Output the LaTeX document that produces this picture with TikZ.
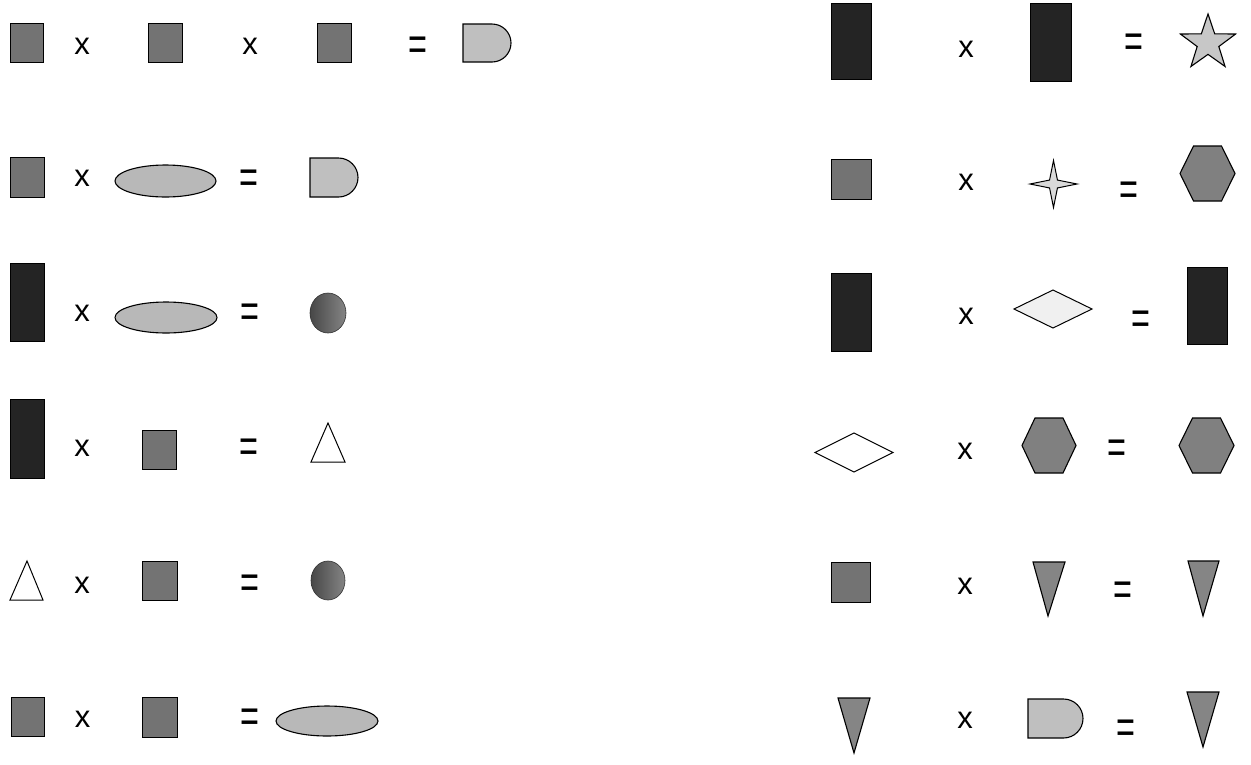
\documentclass[tikz,border=0pt]{standalone}
\usepackage{fontspec}
\newfontfamily\opfont{Liberation Sans}
\usetikzlibrary{shapes.geometric}
\definecolor{sqfill}{gray}{0.45}
\definecolor{tallfill}{gray}{0.14}
\definecolor{ellfill}{gray}{0.72}
\definecolor{dfill}{gray}{0.75}
\definecolor{starfill}{gray}{0.78}
\definecolor{fourfill}{gray}{0.85}
\definecolor{hexfill}{gray}{0.50}
\definecolor{trifill}{gray}{0.52}
\tikzset{
  sqbox/.style={draw=black, line width=0.8pt, fill=sqfill, inner sep=0pt, minimum width=34pt, minimum height=39pt},
  bigsq/.style={sqbox, minimum width=40pt, minimum height=40pt},
  tallbox/.style={draw=black, line width=0.8pt, fill=tallfill, inner sep=0pt, minimum width=40pt, minimum height=78pt},
  ellbox/.style={ellipse, draw=black, line width=1.1pt, fill=ellfill, inner sep=0pt, minimum width=101pt, minimum height=31pt},
  ballbox/.style={ellipse, draw=black!80, line width=0.6pt, left color=black!72, right color=black!48, inner sep=0pt},
  dshape/.style={draw=black, line width=1.1pt, fill=dfill},
  hexshape/.style={draw=black, line width=1.1pt, fill=hexfill},
  itri/.style={draw=black, line width=1.1pt, fill=trifill},
  wtri/.style={draw=black, line width=1pt, fill=white},
  diam/.style={draw=black, line width=1pt},
  times/.style={font=\opfont\fontsize{31pt}{31pt}\selectfont, inner sep=0pt},
  eqs/.style={font=\opfont\fontsize{24pt}{24pt}\selectfont, inner sep=0pt, yshift=-4.5pt},
}
\newcommand{\eqsign}{\scalebox{1.35}[2]{=}}
\begin{document}
\begin{tikzpicture}[x=1pt,y=-1pt]
\useasboundingbox (0,0) rectangle (1251,764);
% ---------------- left column ----------------
% row 1
\node[sqbox, minimum width=33pt] (l1a) at (26.5,42.5) {};
\node[times] (l1x1) at (82,46) {x};
\node[sqbox] (l1b) at (165.5,42.5) {};
\node[times] (l1x2) at (250,46) {x};
\node[sqbox] (l1c) at (334.5,42.5) {};
\node[eqs] (l1e) at (418,44.5) {\eqsign};
\draw[dshape] (463,24) -- (492,24) arc[start angle=-90,end angle=90,radius=19] -- (463,62) -- cycle;
% row 2
\node[sqbox, minimum height=40pt] (l2a) at (27,177) {};
\node[times] (l2x) at (82,178.5) {x};
\node[ellbox, minimum height=32pt] (l2b) at (165.5,181) {};
\node[eqs] (l2e) at (249,177) {\eqsign};
\draw[dshape] (310,158) -- (338.5,158) arc[start angle=-90,end angle=90,radius=19.5] -- (310,197) -- cycle;
% row 3
\node[tallbox, minimum width=34pt] (l3a) at (27,302) {};
\node[times] (l3x) at (82,313.5) {x};
\node[ellbox, minimum width=102pt] (l3b) at (166,317.5) {};
\node[eqs] (l3e) at (250,311) {\eqsign};
\node[ballbox, minimum width=36pt, minimum height=40pt] (l3c) at (328,313) {};
% row 4
\node[tallbox, minimum width=34pt, minimum height=79pt] (l4a) at (27,438.5) {};
\node[times] (l4x) at (82,448) {x};
\node[sqbox] (l4b) at (159,449.5) {};
\node[eqs] (l4e) at (249,446.5) {\eqsign};
\draw[wtri] (328,423) -- (345,462) -- (311,462) -- cycle;
% row 5
\draw[wtri] (27,561) -- (43,600) -- (10,600) -- cycle;
\node[times] (l5x) at (82,585) {x};
\node[sqbox, minimum width=35pt] (l5b) at (159.5,580.5) {};
\node[eqs] (l5e) at (249.5,582) {\eqsign};
\node[ballbox, minimum width=34pt, minimum height=39pt] (l5c) at (328,580.5) {};
% row 6
\node[sqbox, minimum width=33pt] (l6a) at (27.5,716.5) {};
\node[times] (l6x) at (82.5,719.5) {x};
\node[sqbox, minimum width=35pt, minimum height=40pt] (l6b) at (159.5,717) {};
\node[eqs] (l6e) at (250,716.5) {\eqsign};
\node[ellbox, minimum width=102pt, minimum height=30pt] (l6c) at (327,721) {};
% ---------------- right column ----------------
% row 1
\node[tallbox, minimum height=76pt] (r1a) at (851,41) {};
\node[times] (r1x) at (966,49.5) {x};
\node[tallbox, minimum width=41pt] (r1b) at (1050.5,42) {};
\node[eqs] (r1e) at (1133.5,41.5) {\eqsign};
\node[star, star points=5, star point ratio=2.55, minimum size=58pt, inner sep=0pt, draw=black, line width=1.1pt, fill=starfill] (r1c) at (1208,43) {};
% row 2
\node[bigsq] (r2a) at (851,179) {};
\node[times] (r2x) at (966,182) {x};
\node[star, star points=4, star point ratio=4.2, minimum size=47pt, inner sep=0pt, draw=black, line width=1pt, fill=fourfill] (r2b) at (1053.5,184) {};
\node[eqs] (r2e) at (1129,189) {\eqsign};
\draw[hexshape] (1180,173.5) -- (1193.5,146) -- (1221.5,146) -- (1235,173.5) -- (1221.5,201) -- (1193.5,201) -- cycle;
% row 3
\node[tallbox] (r3a) at (851,312) {};
\node[times] (r3x) at (966,316) {x};
\draw[diam, fill=black!6] (1014,309) -- (1053,290) -- (1092,309) -- (1053,328) -- cycle;
\node[eqs] (r3e) at (1140.5,318.5) {\eqsign};
\node[tallbox, minimum height=77pt] (r3c) at (1207,305.5) {};
% row 4
\draw[diam, fill=white] (815,452.5) -- (854,433) -- (893,452.5) -- (854,472) -- cycle;
\node[times] (r4x) at (965,451) {x};
\draw[hexshape] (1022,445.5) -- (1035,418) -- (1063,418) -- (1076,445.5) -- (1063,473) -- (1035,473) -- cycle;
\node[eqs] (r4e) at (1117,447.5) {\eqsign};
\draw[hexshape] (1179,445.5) -- (1192.5,418) -- (1220.5,418) -- (1234,445.5) -- (1220.5,473) -- (1192.5,473) -- cycle;
% row 5
\node[bigsq, minimum width=39pt] (r5a) at (850.5,582) {};
\node[times] (r5x) at (965,586) {x};
\draw[itri] (1033,562) -- (1065,562) -- (1048,616) -- cycle;
\node[eqs] (r5e) at (1122.5,589) {\eqsign};
\draw[itri] (1188,561) -- (1219,561) -- (1203,616) -- cycle;
% row 6
\draw[itri] (838,698) -- (870,698) -- (854,753) -- cycle;
\node[times] (r6x) at (965,720.5) {x};
\draw[dshape] (1028,699) -- (1063.5,699) arc[start angle=-90,end angle=90,radius=19.5] -- (1028,738) -- cycle;
\node[eqs] (r6e) at (1126,727.5) {\eqsign};
\draw[itri] (1187,692) -- (1219,692) -- (1203,747) -- cycle;
\end{tikzpicture}
\end{document}
